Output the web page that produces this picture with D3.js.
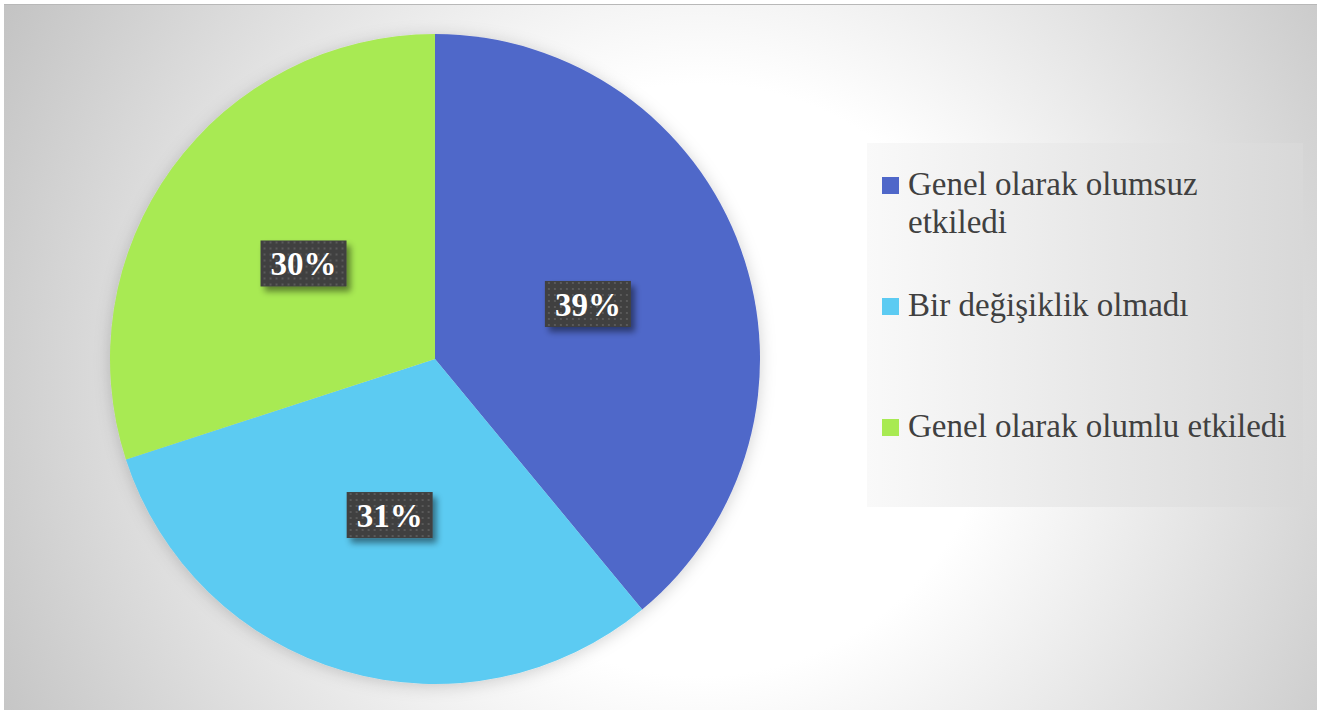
<!DOCTYPE html>
<html>
<head>
<meta charset="utf-8">
<script src="https://cdn.jsdelivr.net/npm/d3@7"></script>
<style>
  body { margin: 0; background: #fff; }
</style>
</head>
<body>
<div class="container"></div>
<script>
const categories = ["Genel olarak olumsuz etkiledi", "Bir değişiklik olmadı", "Genel olarak olumlu etkiledi"];
const legendLines = [["Genel olarak olumsuz", "etkiledi"], ["Bir değişiklik olmadı"], ["Genel olarak olumlu etkiledi"]];
const values = [39, 31, 30];
const colors = ["#4f67c9", "#5ccbf2", "#a8ea52"];

const w = 1322;
const h = 710;
const cx = 435;
const cy = 359;
const radius = 325;

const svg = d3.select(".container")
    .append("svg")
    .attr("width", w)
    .attr("height", h);

const defs = svg.append("defs");

const bg = defs.append("radialGradient")
    .attr("id", "bg")
    .attr("gradientUnits", "userSpaceOnUse")
    .attr("cx", 700).attr("cy", 380).attr("r", 800);
bg.append("stop").attr("offset", 0).attr("stop-color", "#ffffff");
bg.append("stop").attr("offset", 0.37).attr("stop-color", "#ffffff");
bg.append("stop").attr("offset", 1).attr("stop-color", "#c2c2c2");

const lg = defs.append("linearGradient")
    .attr("id", "lg")
    .attr("x1", 0).attr("y1", 0).attr("x2", 1).attr("y2", 0);
lg.append("stop").attr("offset", 0).attr("stop-color", "#f9f9f9");
lg.append("stop").attr("offset", 1).attr("stop-color", "#d8d8d8");

const dots = defs.append("pattern")
    .attr("id", "dots")
    .attr("patternUnits", "userSpaceOnUse")
    .attr("width", 6).attr("height", 6);
dots.append("rect").attr("width", 6).attr("height", 6).attr("fill", "#404040");
dots.append("rect").attr("x", 2).attr("y", 2).attr("width", 2).attr("height", 2).attr("fill", "#5a5a5a");

const pieShadow = defs.append("filter").attr("id", "pieShadow")
    .attr("x", "-10%").attr("y", "-10%").attr("width", "120%").attr("height", "120%");
pieShadow.append("feDropShadow")
    .attr("dx", 0).attr("dy", 2).attr("stdDeviation", 8)
    .attr("flood-color", "#000").attr("flood-opacity", 0.18);

const boxShadow = defs.append("filter").attr("id", "boxShadow")
    .attr("x", "-20%").attr("y", "-20%").attr("width", "150%").attr("height", "160%");
boxShadow.append("feDropShadow")
    .attr("dx", 4).attr("dy", 5).attr("stdDeviation", 3)
    .attr("flood-color", "#000").attr("flood-opacity", 0.45);

// background
svg.append("rect")
    .attr("x", 4).attr("y", 4)
    .attr("width", 1313).attr("height", h)
    .attr("fill", "url(#bg)");
svg.append("line")
    .attr("x1", 4).attr("x2", 1317).attr("y1", 4.5).attr("y2", 4.5)
    .attr("stroke", "#b8b8b8").attr("stroke-width", 1);

// pie
const pie = d3.pie().sort(null).value((d) => d);
const arc = d3.arc().innerRadius(0).outerRadius(radius);
const arcs = pie(values);

const g = svg.append("g").attr("transform", `translate(${cx}, ${cy})`);

g.append("g")
    .attr("filter", "url(#pieShadow)")
    .selectAll("path")
    .data(arcs)
    .enter()
    .append("path")
    .attr("d", arc)
    .attr("fill", (d, i) => colors[i]);

const labels = g.selectAll(".lbl")
    .data(arcs)
    .enter()
    .append("g")
    .attr("class", "lbl")
    .attr("transform", (d) => {
        const c = arc.centroid(d);
        return `translate(${c[0]}, ${c[1]})`;
    });

labels.append("rect")
    .attr("x", -43).attr("y", -23)
    .attr("width", 86).attr("height", 46)
    .attr("fill", "url(#dots)")
    .attr("filter", "url(#boxShadow)");

labels.append("text")
    .attr("text-anchor", "middle")
    .attr("y", 12)
    .attr("font-family", "Liberation Serif, serif")
    .attr("font-weight", "bold")
    .attr("font-size", 33)
    .attr("fill", "#ffffff")
    .text((d) => d.data + "%");

// legend
const legend = svg.append("g");
legend.append("rect")
    .attr("x", 867).attr("y", 143)
    .attr("width", 436).attr("height", 364)
    .attr("fill", "url(#lg)");

const rowY = [195, 316, 437];
const item = legend.selectAll(".item")
    .data(categories)
    .enter()
    .append("g")
    .attr("class", "item");

item.append("rect")
    .attr("x", 882)
    .attr("y", (d, i) => rowY[i] - 18)
    .attr("width", 17).attr("height", 17)
    .attr("fill", (d, i) => colors[i]);

item.append("text")
    .attr("x", 908)
    .attr("y", (d, i) => rowY[i])
    .attr("font-family", "Liberation Serif, serif")
    .attr("font-size", 33)
    .attr("fill", "#404040")
    .selectAll("tspan")
    .data((d, i) => legendLines[i])
    .enter()
    .append("tspan")
    .attr("x", 908)
    .attr("dy", (d, j) => (j === 0 ? 0 : 38))
    .text((d) => d);
</script>
</body>
</html>
